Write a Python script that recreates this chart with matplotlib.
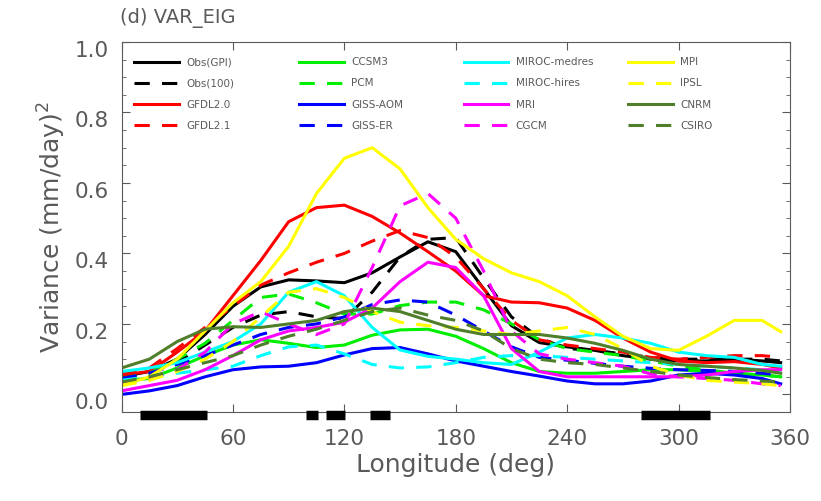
import numpy as np
import matplotlib
matplotlib.use("Agg")
import matplotlib.pyplot as plt
from matplotlib.ticker import MultipleLocator
from matplotlib.transforms import ScaledTranslation

# longitudes (deg)
lon = [0, 15, 30, 45, 60, 75, 90, 105, 120, 135, 150, 165, 180,
       195, 210, 225, 240, 255, 270, 285, 300, 315, 330, 345, 355]

obs_gpi = [0.05, 0.065, 0.10, 0.17, 0.25, 0.305, 0.325, 0.322, 0.317, 0.345, 0.39, 0.433, 0.405,
           0.30, 0.195, 0.147, 0.135, 0.125, 0.11, 0.10, 0.095, 0.095, 0.10, 0.095, 0.09]
obs_100 = [0.05, 0.06, 0.09, 0.14, 0.19, 0.225, 0.235, 0.22, 0.215, 0.29, 0.39, 0.44, 0.445,
           0.33, 0.22, 0.16, 0.13, 0.125, 0.115, 0.105, 0.10, 0.10, 0.10, 0.10, 0.095]
gfdl20 = [0.055, 0.065, 0.12, 0.18, 0.28, 0.38, 0.49, 0.53, 0.537, 0.505, 0.458, 0.405, 0.35,
          0.28, 0.262, 0.26, 0.245, 0.21, 0.16, 0.12, 0.095, 0.09, 0.093, 0.085, 0.075]
gfdl21 = [0.06, 0.075, 0.13, 0.19, 0.25, 0.31, 0.345, 0.375, 0.40, 0.435, 0.465, 0.445, 0.39,
          0.30, 0.21, 0.155, 0.14, 0.13, 0.12, 0.105, 0.10, 0.105, 0.11, 0.11, 0.105]
ccsm3 = [0.04, 0.045, 0.075, 0.11, 0.14, 0.155, 0.145, 0.133, 0.14, 0.168, 0.183, 0.185, 0.165,
         0.13, 0.09, 0.065, 0.06, 0.06, 0.065, 0.07, 0.07, 0.065, 0.06, 0.055, 0.05]
pcm = [0.045, 0.06, 0.10, 0.145, 0.21, 0.275, 0.285, 0.26, 0.228, 0.228, 0.252, 0.262, 0.262,
       0.24, 0.20, 0.155, 0.13, 0.12, 0.11, 0.095, 0.08, 0.07, 0.06, 0.055, 0.05]
giss_aom = [0.0, 0.01, 0.025, 0.05, 0.07, 0.078, 0.08, 0.09, 0.112, 0.13, 0.133, 0.115, 0.095,
            0.08, 0.065, 0.052, 0.038, 0.03, 0.03, 0.038, 0.055, 0.06, 0.055, 0.045, 0.03]
giss_er = [0.045, 0.06, 0.085, 0.11, 0.14, 0.17, 0.19, 0.20, 0.22, 0.255, 0.268, 0.262, 0.225,
           0.18, 0.135, 0.105, 0.097, 0.088, 0.08, 0.074, 0.07, 0.068, 0.065, 0.06, 0.055]
miroc_med = [0.065, 0.075, 0.09, 0.12, 0.15, 0.20, 0.29, 0.32, 0.28, 0.19, 0.126, 0.108, 0.10,
             0.09, 0.085, 0.12, 0.16, 0.17, 0.16, 0.145, 0.12, 0.11, 0.105, 0.085, 0.08]
miroc_hi = [0.04, 0.05, 0.06, 0.07, 0.08, 0.11, 0.135, 0.14, 0.115, 0.085, 0.075, 0.078, 0.09,
            0.105, 0.11, 0.11, 0.105, 0.10, 0.095, 0.09, 0.085, 0.08, 0.075, 0.07, 0.065]
mri = [0.01, 0.025, 0.04, 0.07, 0.11, 0.155, 0.18, 0.19, 0.205, 0.245, 0.32, 0.375, 0.36,
       0.28, 0.13, 0.065, 0.05, 0.05, 0.05, 0.05, 0.05, 0.055, 0.065, 0.07, 0.07]
cgcm = [0.03, 0.045, 0.07, 0.12, 0.20, 0.235, 0.20, 0.17, 0.20, 0.36, 0.535, 0.57, 0.50,
        0.35, 0.18, 0.115, 0.10, 0.09, 0.08, 0.058, 0.05, 0.045, 0.04, 0.03, 0.025]
mpi = [0.025, 0.05, 0.10, 0.18, 0.26, 0.32, 0.42, 0.57, 0.67, 0.70, 0.64, 0.53, 0.44,
       0.385, 0.345, 0.32, 0.28, 0.22, 0.165, 0.13, 0.125, 0.165, 0.21, 0.21, 0.178]
ipsl = [0.025, 0.04, 0.065, 0.10, 0.15, 0.22, 0.29, 0.30, 0.275, 0.235, 0.205, 0.195, 0.19,
        0.18, 0.17, 0.18, 0.19, 0.17, 0.13, 0.08, 0.055, 0.04, 0.035, 0.03, 0.025]
cnrm = [0.075, 0.10, 0.15, 0.185, 0.192, 0.19, 0.20, 0.21, 0.235, 0.245, 0.235, 0.21, 0.185,
        0.17, 0.17, 0.17, 0.16, 0.145, 0.125, 0.10, 0.085, 0.08, 0.075, 0.068, 0.06]
csiro = [0.035, 0.05, 0.07, 0.09, 0.11, 0.14, 0.165, 0.185, 0.21, 0.235, 0.245, 0.225, 0.21,
         0.18, 0.13, 0.10, 0.09, 0.085, 0.075, 0.065, 0.055, 0.048, 0.042, 0.038, 0.035]

# significance segments along the x axis (deg)
bar_start = [10, 99.5, 110, 134, 280]
bar_end = [46, 106, 120.5, 144.5, 317]

OLIVE = "#4f7f2a"
series = [
    ("Obs(GPI)", obs_gpi, "black", "-"),
    ("Obs(100)", obs_100, "black", "--"),
    ("GFDL2.0", gfdl20, "red", "-"),
    ("GFDL2.1", gfdl21, "red", "--"),
    ("CCSM3", ccsm3, "#00ee00", "-"),
    ("PCM", pcm, "#00ee00", "--"),
    ("GISS-AOM", giss_aom, "blue", "-"),
    ("GISS-ER", giss_er, "blue", "--"),
    ("MIROC-medres", miroc_med, "cyan", "-"),
    ("MIROC-hires", miroc_hi, "cyan", "--"),
    ("MRI", mri, "magenta", "-"),
    ("CGCM", cgcm, "magenta", "--"),
    ("MPI", mpi, "yellow", "-"),
    ("IPSL", ipsl, "yellow", "--"),
    ("CNRM", cnrm, OLIVE, "-"),
    ("CSIRO", csiro, OLIVE, "--"),
]

GREY = "#5a5a5a"
plt.rcParams["font.family"] = "DejaVu Sans"

fig = plt.figure(figsize=(8.21, 5.01), dpi=100)
ax = fig.add_axes([0.148, 0.1776, 0.8142, 0.7386])

handles = []
for name, vals, col, ls in series:
    if ls == "--":
        ln, = ax.plot(lon, vals, color=col, lw=2.2, dashes=(5, 4), label=name)
    else:
        ln, = ax.plot(lon, vals, color=col, lw=2.2, label=name)
    handles.append(ln)

ax.hlines([-0.0575] * len(bar_start), bar_start, bar_end, color="black",
          lw=6.8, clip_on=False, zorder=5)

ax.set_xlim(0, 360)
ax.set_ylim(-0.05, 1.0)
ax.set_xticks(np.arange(0, 361, 60))
ax.set_yticks(np.arange(0, 1.01, 0.2))
ax.set_yticklabels([f"{v:.1f}" for v in np.arange(0, 1.01, 0.2)])
ax.yaxis.set_minor_locator(MultipleLocator(0.05))
ax.tick_params(which="both", direction="in", top=True, right=True,
               colors=GREY, labelcolor=GREY, labelsize=15.5)
ax.tick_params(which="major", length=6)
ax.tick_params(which="minor", length=3)
ax.tick_params(axis="x", pad=12)
ax.tick_params(axis="y", pad=9)
for sp in ax.spines.values():
    sp.set_color(GREY)

# IDL-style: y labels sit a little below their ticks
shift = ScaledTranslation(0, -0.07, fig.dpi_scale_trans)
for lab in ax.get_yticklabels():
    lab.set_transform(lab.get_transform() + shift)

ax.set_xlabel("Longitude (deg)", fontsize=18, color=GREY, labelpad=3)
ax.set_ylabel("Variance (mm/day)$^2$", fontsize=18, color=GREY, labelpad=5)
fig.text(0.146, 0.945, "(d) VAR_EIG", fontsize=14, color=GREY, ha="left", va="bottom")

# legend: 4 columns of 4, fixed column pitch like the original
for c in range(4):
    leg = ax.legend(handles=handles[4 * c:4 * c + 4], loc="upper left", frameon=False,
                    fontsize=7.5, handlelength=4.3, handletextpad=0.7,
                    labelspacing=1.07, bbox_to_anchor=(0.005 + 0.2464 * c, 0.984))
    for t in leg.get_texts():
        t.set_color(GREY)
    if c < 3:
        ax.add_artist(leg)

fig.savefig("out.png", dpi=100)
